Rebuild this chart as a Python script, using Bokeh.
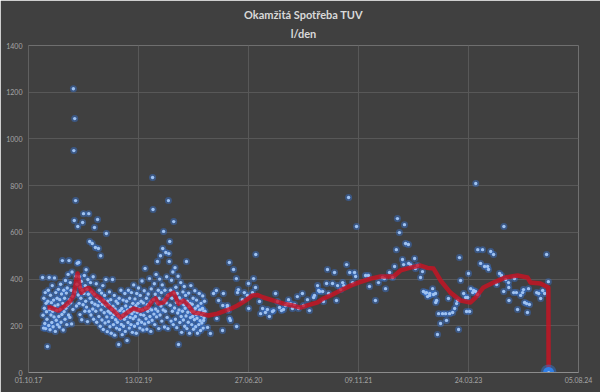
import pandas as pd
from bokeh.plotting import figure
from bokeh.models import Range1d, FixedTicker, DatetimeTickFormatter, Title
from bokeh.embed import file_html
from bokeh.resources import INLINE

# ---------------- data ----------------
title_main = "Okamžitá Spotřeba TUV"
title_unit = "l/den"

# dense period: one reading every 2 days
daily_start = "2017-12-04"
daily_step = "2D"
daily_values = [
    407, 245, 190, 318, 275, 210, 342, 188, 296, 260,
    228, 111, 305, 352, 201, 407, 270, 183, 331, 246,
    299, 214, 372, 262, 196, 310, 238, 405, 285, 176,
    342, 224, 266, 318, 205, 290, 356, 240, 195, 312,
    270, 378, 215, 336, 248, 479, 296, 182, 352, 260,
    318, 228, 394, 275, 340, 205, 362, 288, 420, 246,
    479, 312, 236, 385, 298, 352, 208, 430, 326, 270,
    1215, 950, 651, 1087, 345, 736, 412, 285, 378, 468,
    625, 332, 471, 296, 410, 248, 365, 318, 390, 226,
    352, 642, 290, 680, 338, 415, 262, 372, 305, 440,
    280, 356, 218, 398, 335, 680, 262, 561, 318, 385,
    246, 345, 300, 552, 272, 410, 228, 335, 621, 292,
    535, 262, 380, 215, 318, 655, 286, 531, 240, 352,
    305, 198, 500, 268, 340, 225, 292, 372, 184, 310,
    256, 330, 212, 286, 398, 595, 238, 175, 305, 262,
    218, 290, 345, 196, 254, 312, 168, 270, 236, 398,
    284, 205, 248, 330, 160, 272, 226, 305, 190, 258,
    215, 296, 242, 120, 318, 184, 265, 230, 352, 206,
    274, 162, 245, 310, 198, 260, 228, 338, 176, 285,
    240, 305, 137, 268, 214, 352, 258, 190, 318, 236,
    280, 205, 342, 252, 172, 296, 230, 375, 262, 198,
    315, 240, 286, 168, 338, 258, 210, 296, 362, 225,
    272, 190, 330, 248, 305, 215, 392, 268, 182, 298,
    245, 350, 208, 445, 276, 230, 318, 185, 290, 262,
    336, 215, 275, 402, 240, 302, 176, 358, 268, 224,
    835, 698, 312, 250, 380, 205, 335, 272, 420, 238,
    298, 475, 262, 352, 188, 318, 400, 246, 500, 285,
    342, 220, 375, 531, 268, 604, 310, 195, 352, 262,
    514, 298, 410, 236, 330, 188, 736, 509, 475, 561,
    288, 352, 220, 395, 318, 262, 430, 205, 646, 340,
    276, 449, 228, 365, 300, 192, 338, 255, 412, 120,
    268, 320, 214, 296, 385, 240, 172, 310, 262, 345,
    225, 290, 368, 198, 275, 330, 242, 475, 188, 305,
    258, 215, 340, 282, 168, 296, 235, 372, 260, 205,
    292, 240, 318, 185, 262, 226, 350, 275, 196, 248,
    310, 232, 168, 285, 255, 205, 338, 268, 222, 180,
    296, 245, 212, 272, 328, 190, 258, 235, 305, 262,
]

# sparse period: irregular readings
sparse_dates = [
    "2019-12-01", "2019-12-06", "2019-12-24", "2020-01-06", "2020-01-20", "2020-02-02",
    "2020-02-04", "2020-02-12", "2020-03-01", "2020-03-02", "2020-03-05", "2020-03-23",
    "2020-03-24", "2020-03-28", "2020-04-01", "2020-04-02", "2020-04-06", "2020-04-20",
    "2020-05-03", "2020-05-04", "2020-05-08", "2020-05-12", "2020-05-30", "2020-06-08",
    "2020-06-22", "2020-06-27", "2020-06-28", "2020-07-15", "2020-07-20", "2020-07-29",
    "2020-07-30", "2020-08-16", "2020-08-21", "2020-08-30", "2020-09-12", "2020-09-21",
    "2020-09-30", "2020-10-14", "2020-10-19", "2020-10-28", "2020-11-06", "2020-11-15",
    "2020-11-24", "2020-12-03", "2020-12-12", "2020-12-21", "2020-12-26", "2021-01-04",
    "2021-01-13", "2021-01-22", "2021-02-04", "2021-02-09", "2021-02-27", "2021-03-04",
    "2021-03-22", "2021-03-31", "2021-04-19", "2021-04-23", "2021-05-07", "2021-05-12",
    "2021-05-16", "2021-05-30", "2021-06-03", "2021-06-17", "2021-06-21", "2021-06-26",
    "2021-07-14", "2021-07-23", "2021-08-01", "2021-08-06", "2021-08-20", "2021-08-29",
    "2021-09-03", "2021-09-16", "2021-09-25", "2021-09-30", "2021-10-13", "2021-10-22",
    "2021-10-27", "2021-10-31", "2021-12-11", "2021-12-24", "2021-12-29", "2022-01-25",
    "2022-02-08", "2022-02-26", "2022-03-07", "2022-03-12", "2022-03-30", "2022-04-13",
    "2022-04-22", "2022-04-30", "2022-05-05", "2022-05-14", "2022-05-28", "2022-06-02",
    "2022-06-06", "2022-06-11", "2022-06-24", "2022-06-25", "2022-07-04", "2022-07-22",
    "2022-07-26", "2022-08-04", "2022-08-18", "2022-08-27", "2022-08-31", "2022-09-10",
    "2022-09-14", "2022-09-19", "2022-09-28", "2022-09-29", "2022-10-12", "2022-10-16",
    "2022-10-25", "2022-10-26", "2022-10-30", "2022-11-03", "2022-11-08", "2022-11-17",
    "2022-11-26", "2022-12-10", "2022-12-14", "2022-12-23", "2022-12-28", "2023-01-11",
    "2023-01-20", "2023-01-29", "2023-02-02", "2023-02-07", "2023-02-11", "2023-02-16",
    "2023-03-02", "2023-03-11", "2023-03-15", "2023-03-20", "2023-03-24", "2023-03-29",
    "2023-04-03", "2023-04-12", "2023-04-16", "2023-04-25", "2023-04-26", "2023-05-04",
    "2023-05-05", "2023-05-18", "2023-05-27", "2023-06-05", "2023-06-19", "2023-06-23",
    "2023-07-03", "2023-07-16", "2023-07-30", "2023-08-12", "2023-08-21", "2023-08-31",
    "2023-09-01", "2023-09-09", "2023-09-22", "2023-09-23", "2023-09-24", "2023-10-15",
    "2023-10-19", "2023-10-28", "2023-11-02", "2023-11-16", "2023-11-25", "2023-11-29",
    "2023-12-04", "2023-12-13", "2023-12-17", "2023-12-22", "2023-12-26", "2024-01-28",
    "2024-02-06", "2024-02-15", "2024-02-24", "2024-03-04", "2024-03-13", "2024-03-21",
]
sparse_values = [
    274, 223, 193, 167, 338, 351,
    231, 308, 180, 287, 338, 287,
    278, 265, 471, 231, 223, 441,
    402, 197, 342, 355, 312, 342,
    330, 381, 274, 342, 402, 364,
    505, 304, 252, 274, 257, 270,
    240, 261, 265, 338, 304, 278,
    265, 270, 287, 295, 312, 295,
    274, 291, 325, 274, 338, 287,
    312, 265, 321, 330, 372, 351,
    347, 347, 304, 381, 441, 338,
    381, 428, 308, 372, 355, 385,
    372, 462, 749, 428, 385, 428,
    411, 625, 415, 415, 368, 308,
    385, 407, 402, 359, 428, 407,
    454, 526, 659, 599, 484, 462,
    633, 552, 548, 467, 460, 488,
    445, 458, 407, 432, 347, 340,
    342, 325, 330, 338, 359, 334,
    338, 300, 308, 163, 252, 210,
    252, 252, 223, 317, 252, 257,
    274, 295, 308, 184, 492, 394,
    338, 321, 261, 321, 424, 261,
    359, 342, 351, 347, 809, 334,
    526, 467, 526, 454, 454, 441,
    518, 505, 377, 424, 415, 347,
    625, 398, 385, 364, 308, 342,
    402, 342, 270, 330, 342, 355,
    300, 295, 257, 359, 291, 342,
    338, 317, 351, 338, 505, 389,
]

last_date = "2024-03-22"
last_value = 0

# moving-average trend line
avg_dates = [
    "2017-12-26", "2018-01-09", "2018-02-14", "2018-03-18", "2018-04-10", "2018-04-24",
    "2018-05-12", "2018-05-21", "2018-05-30", "2018-06-13", "2018-07-01", "2018-07-19",
    "2018-08-02", "2018-08-24", "2018-09-25", "2018-10-22", "2018-11-23", "2018-12-25",
    "2019-01-21", "2019-02-22", "2019-03-26", "2019-04-18", "2019-05-01", "2019-05-15",
    "2019-06-07", "2019-06-29", "2019-07-22", "2019-08-14", "2019-09-06", "2019-09-28",
    "2019-10-21", "2019-11-22", "2019-12-28", "2020-02-07", "2020-03-14", "2020-04-06",
    "2020-05-08", "2020-06-13", "2020-07-15", "2020-08-07", "2020-09-03", "2020-10-19",
    "2020-12-03", "2021-01-13", "2021-02-18", "2021-03-22", "2021-05-07", "2021-06-03",
    "2021-07-05", "2021-08-19", "2021-10-04", "2021-11-09", "2022-01-03", "2022-02-17",
    "2022-04-17", "2022-05-19", "2022-07-03", "2022-08-18", "2022-09-19", "2022-10-16",
    "2022-11-17", "2023-01-01", "2023-02-16", "2023-04-02", "2023-04-25", "2023-05-31",
    "2023-07-16", "2023-09-08", "2023-11-02", "2023-12-17", "2023-12-31", "2024-02-14",
    "2024-03-21", "2024-03-22",
]
avg_values = [
    278, 278, 265, 287, 308, 330,
    424, 370, 342, 355, 362, 345,
    330, 317, 287, 265, 235, 257,
    274, 265, 278, 308, 317, 295,
    300, 330, 342, 295, 308, 287,
    257, 252, 244, 252, 265, 272,
    287, 308, 330, 332, 321, 308,
    295, 287, 278, 287, 300, 317,
    330, 351, 372, 385, 402, 411,
    411, 437, 449, 458, 448, 445,
    394, 342, 308, 300, 321, 364,
    385, 407, 415, 407, 385, 381,
    364, 0,
]

x_start = "2017-10-01"
x_end = "2024-08-05"
tick_dates = ["2017-10-01", "2019-02-13", "2020-06-27", "2021-11-09", "2023-03-24", "2024-08-05"]
tick_labels = ["01.10.17", "13.02.19", "27.06.20", "09.11.21", "24.03.23", "05.08.24"]
y_ticks = [0, 200, 400, 600, 800, 1000, 1200, 1400]

# ---------------- figure ----------------
BG = "#404040"
daily_dates = pd.date_range(daily_start, periods=len(daily_values), freq=daily_step)
sp_dates = pd.to_datetime(sparse_dates)
av_dates = pd.to_datetime(avg_dates)

p = figure(
    width=600, height=392, x_axis_type="datetime",
    x_range=Range1d(pd.Timestamp(x_start), pd.Timestamp(x_end)),
    y_range=Range1d(0, 1400),
    output_backend="svg", toolbar_location=None,
    background_fill_color=BG, border_fill_color=BG,
    min_border_left=28, min_border_right=22, min_border_top=45, min_border_bottom=20,
)
p.outline_line_color = None

title_style = dict(align="center", text_color="#d9d9d9", text_font="Lato",
                   text_font_style="bold", text_font_size="11px")
p.title.text = title_main
for k, v in title_style.items():
    setattr(p.title, k, v)
p.title.standoff = -4
p.add_layout(Title(text=title_unit, standoff=12, **title_style), "above")

tick_ms = [pd.Timestamp(d).value // 10**6 for d in tick_dates]
p.xaxis.ticker = FixedTicker(ticks=tick_ms)
p.xaxis.formatter = DatetimeTickFormatter(days="%d.%m.%y", months="%d.%m.%y", years="%d.%m.%y")
p.xaxis.major_label_overrides = {t: lab for t, lab in zip(tick_ms, tick_labels)}
p.yaxis.ticker = FixedTicker(ticks=y_ticks)

for ax in (p.xaxis, p.yaxis):
    ax.major_tick_line_color = None
    ax.minor_tick_line_color = None
    ax.major_tick_out = 0
    ax.major_tick_in = 0
    ax.minor_tick_out = 0
    ax.minor_tick_in = 0
    ax.major_label_text_color = "#a6a6a6"
    ax.major_label_text_font = "Lato"
    ax.major_label_text_font_size = "7px"
p.xaxis.major_label_standoff = 4
p.yaxis.major_label_standoff = 6
p.xaxis.axis_line_color = "#8c8c8c"
p.yaxis.axis_line_color = "#606060"

p.xgrid.grid_line_color = "#585858"
p.ygrid.grid_line_color = "#585858"

# points (glow + core)
for xs, ys in ((daily_dates, daily_values), (sp_dates, sparse_values)):
    p.scatter(xs, ys, size=7, fill_color="#3478e0", fill_alpha=0.42, line_color=None)
for xs, ys in ((daily_dates, daily_values), (sp_dates, sparse_values)):
    p.scatter(xs, ys, size=3.4, fill_color="#9ec2f2", line_color=None)

# trend line
p.line(av_dates, avg_values, line_color="#cc1222", line_alpha=0.8, line_width=4.5, line_join="round")

# last point
lx = [pd.Timestamp(last_date)]
p.scatter(lx, [last_value], size=16, fill_color="#2f7fe8", fill_alpha=0.4, line_color=None)
p.scatter(lx, [last_value], size=11, fill_color="#2f7fe8", line_color=None)
p.scatter(lx, [last_value], size=3, fill_color="#9ec2f2", line_color=None)

html = file_html(p, INLINE, "Okamžitá Spotřeba TUV")
html = html.replace("<body>", '<body style="background-color:#404040; overflow:hidden;">', 1)
open("out.html", "w").write(html)
